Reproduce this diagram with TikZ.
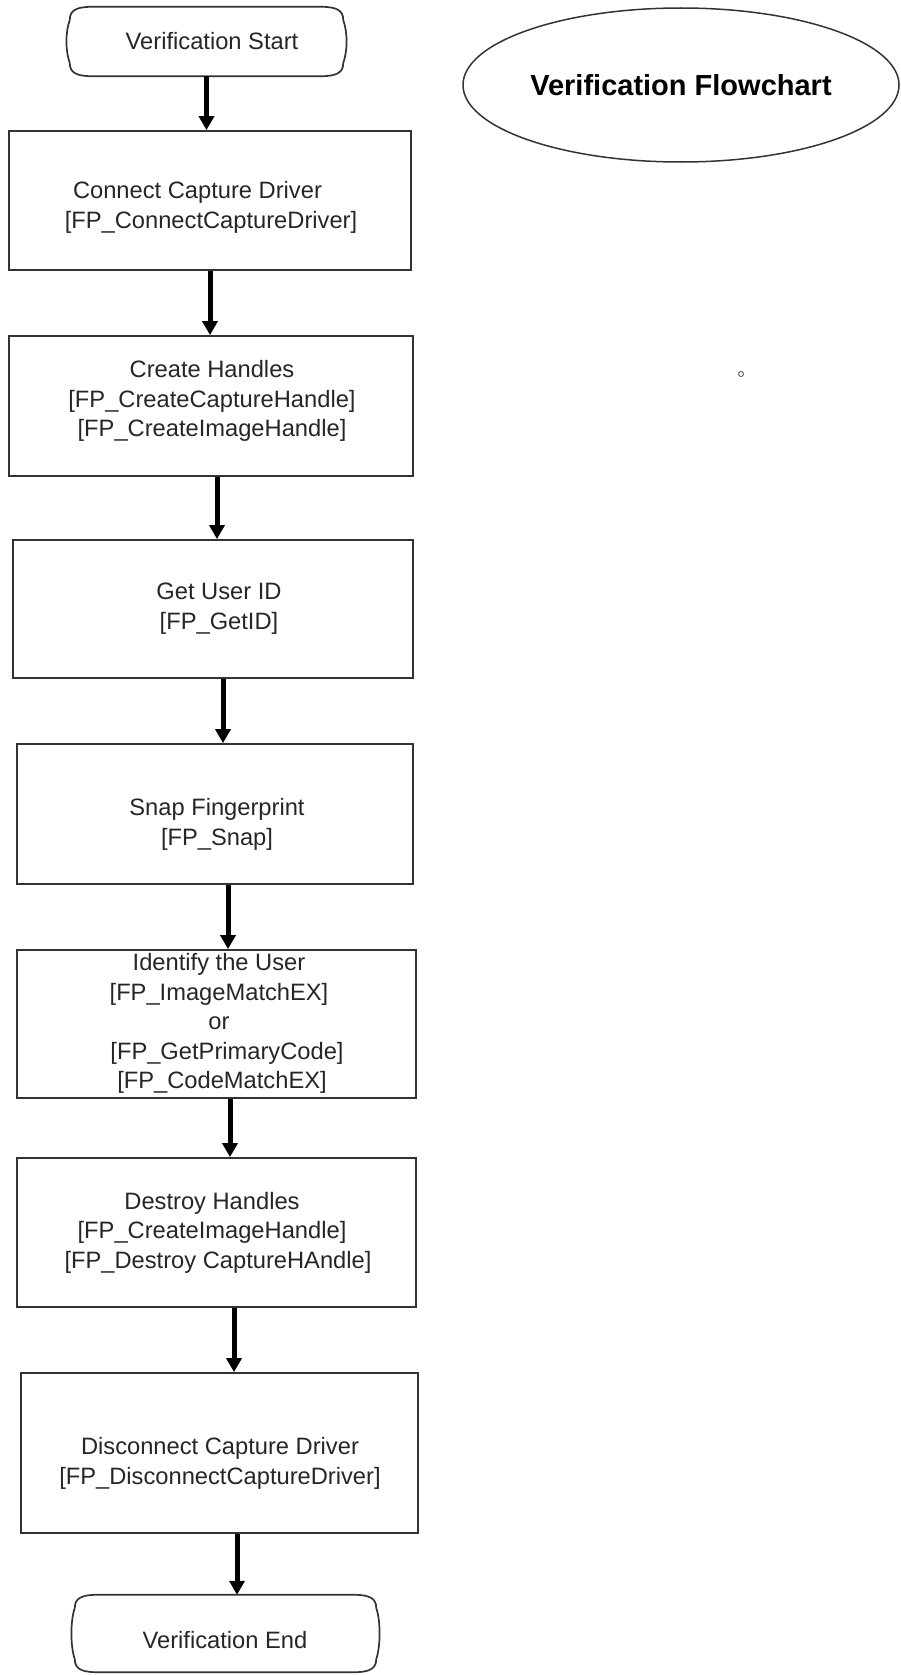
\documentclass[tikz,border=0pt]{standalone}
\usepackage{fontspec}
\setmainfont{Liberation Sans}
\usetikzlibrary{shapes.geometric,arrows.meta,calc}

% outline of the start/end terminals (flat top, bowed sides)
\newcommand{\drawterminal}[1]{%
  \draw[draw=black!80, line width=1.7pt]
    ([xshift=25pt]#1.north west) -- ([xshift=-25pt]#1.north east)
    .. controls ([xshift=-9pt]#1.north east) and ([xshift=-3pt,yshift=-4pt]#1.north east) .. ([xshift=-3pt,yshift=-13pt]#1.north east)
    .. controls ([xshift=1.5pt,yshift=-26pt]#1.north east) and ([xshift=1.5pt,yshift=26pt]#1.south east) .. ([xshift=-3pt,yshift=13pt]#1.south east)
    .. controls ([xshift=-3pt,yshift=4pt]#1.south east) and ([xshift=-9pt]#1.south east) .. ([xshift=-25pt]#1.south east)
    -- ([xshift=25pt]#1.south west)
    .. controls ([xshift=9pt]#1.south west) and ([xshift=3pt,yshift=4pt]#1.south west) .. ([xshift=3pt,yshift=13pt]#1.south west)
    .. controls ([xshift=-1.5pt,yshift=26pt]#1.south west) and ([xshift=-1.5pt,yshift=-26pt]#1.north west) .. ([xshift=3pt,yshift=-13pt]#1.north west)
    .. controls ([xshift=3pt,yshift=-4pt]#1.north west) and ([xshift=9pt]#1.north west) .. ([xshift=25pt]#1.north west)
    -- cycle;}

\begin{document}
\begin{tikzpicture}[x=1pt, y=-1pt,
    proc/.style={draw=black!80, line width=1.8pt, rectangle, inner sep=0pt},
    term/.style={rectangle, inner sep=0pt},
    txt/.style={align=center, text=black!85, inner sep=0pt, font=\fontsize{23.7}{29.5}\selectfont},
    flow/.style={line width=5pt, -{Triangle[length=14pt,width=15pt]}}]
    \useasboundingbox (0,0) rectangle (901,1675);

    % title
    \node (title) [ellipse, draw=black!80, line width=1.5pt, minimum width=436pt, minimum height=154pt, inner sep=0pt,
        font=\bfseries\fontsize{29}{34}\selectfont] at (681,85) {Verification Flowchart};
    \node (dot) [circle, draw=black!60, line width=1pt, minimum size=5pt, inner sep=0pt] at (741,374) {};

    % terminals
    \node (start) [term, minimum width=279pt, minimum height=69pt] at (206.5,41.5) {};
    \drawterminal{start}
    \node (start-txt) [txt] at (212,41) {Verification Start};

    \node (end) [term, minimum width=307pt, minimum height=77pt] at (225.5,1633.5) {};
    \drawterminal{end}
    \node (end-txt) [txt] at (225,1640) {Verification End};

    % process boxes
    \node (box1) [proc, minimum width=402pt, minimum height=139pt] at (210,200.5) {};
    \node (box1-txt) [txt] at (211,207.5) {\makebox[276pt][l]{Connect Capture Driver}\\ {[}FP\_ConnectCaptureDriver{]}};

    \node (box2) [proc, minimum width=404pt, minimum height=140pt] at (211,406) {};
    \node (box2-txt) [txt] at (212,401) {Create Handles\\ {[}FP\_CreateCaptureHandle{]}\\ {[}FP\_CreateImageHandle{]}};

    \node (box3) [proc, minimum width=400pt, minimum height=138pt] at (213,609) {};
    \node (box3-txt) [txt] at (219,608.5) {Get User ID\\ {[}FP\_GetID{]}};

    \node (box4) [proc, minimum width=396pt, minimum height=140pt] at (215,814) {};
    \node (box4-txt) [txt] at (217,824.5) {Snap Fingerprint\\ {[}FP\_Snap{]}};

    \node (box5) [proc, minimum width=399pt, minimum height=148pt] at (216.5,1024) {};
    \node (box5-txt) [txt] at (219,1023.5) {Identify the User\\ {[}FP\_ImageMatchEX{]}\\ or\\ \hspace*{16pt}{[}FP\_GetPrimaryCode{]}\\ \hspace*{6pt}{[}FP\_CodeMatchEX{]}};

    \node (box6) [proc, minimum width=399pt, minimum height=149pt] at (216.5,1232.5) {};
    \node (box6-txt) [txt] at (212,1232.5) {Destroy Handles\\ {[}FP\_CreateImageHandle{]}\\ \hspace*{12pt}{[}FP\_Destroy CaptureHAndle{]}};

    \node (box7) [proc, minimum width=397pt, minimum height=160pt] at (219.5,1453) {};
    \node (box7-txt) [txt] at (220,1463.5) {Disconnect Capture Driver\\ {[}FP\_DisconnectCaptureDriver{]}};

    % arrows
    \draw[flow] (start.south) -- (start.south |- box1.north);
    \draw[flow] (box1.south) -- (box1.south |- box2.north);
    \draw[flow] ($(box2.south)+(6,0)$) -- ($(box2.south |- box3.north)+(6,0)$);
    \draw[flow] ($(box3.south)+(10,0)$) -- ($(box3.south |- box4.north)+(10,0)$);
    \draw[flow] ($(box4.south)+(13,0)$) -- ($(box4.south |- box5.north)+(13,0)$);
    \draw[flow] ($(box5.south)+(13.5,0)$) -- ($(box5.south |- box6.north)+(13.5,0)$);
    \draw[flow] ($(box6.south)+(17.5,0)$) -- ($(box6.south |- box7.north)+(17.5,0)$);
    \draw[flow] ($(box7.south)+(17.5,0)$) -- ($(box7.south |- end.north)+(17.5,0)$);
\end{tikzpicture}
\end{document}
